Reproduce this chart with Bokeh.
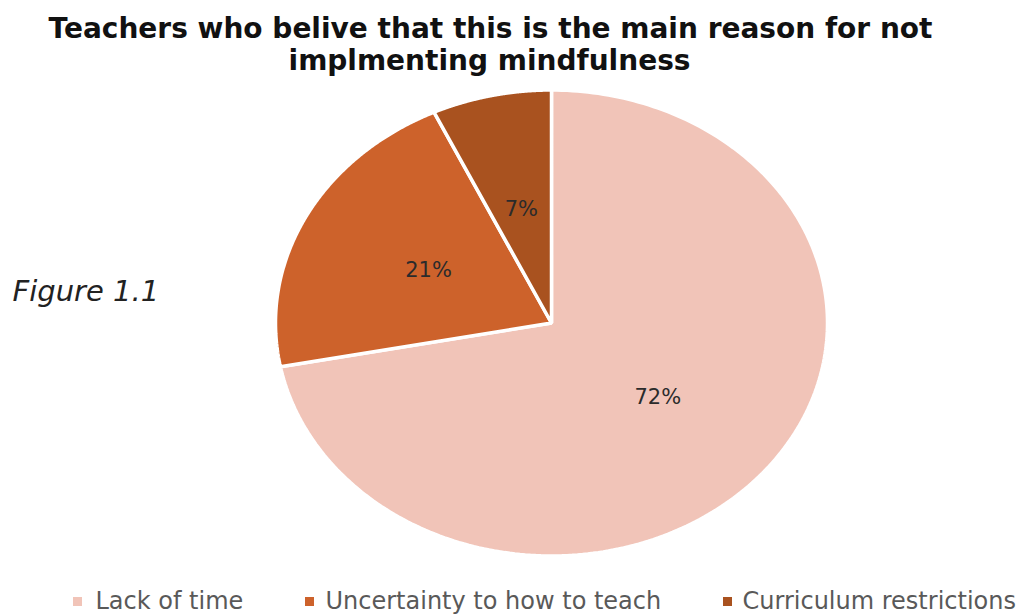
import numpy as np
from bokeh.plotting import figure
from bokeh.models import Range1d, ColumnDataSource
from bokeh.embed import file_html
from bokeh.resources import INLINE
from bokeh.core.properties import value

# ---- data ----
title_lines = ["Teachers who belive that this is the main reason for not",
               "implmenting mindfulness"]
categories = ["Lack of time", "Uncertainty to how to teach", "Curriculum restrictions"]
percent = [72, 21, 7]
colors = ["#F1C4B8", "#CD622B", "#A9521F"]
side_note = "Figure 1.1"

W, H = 1033, 615
p = figure(width=W, height=H, x_range=Range1d(0, W), y_range=Range1d(H, 0),
           output_backend="svg", toolbar_location=None, min_border=0)
p.axis.visible = False
p.grid.visible = False
p.outline_line_color = None
p.background_fill_color = "white"
p.border_fill_color = "white"

# ---- pie (elliptical, clockwise from 12 o'clock) ----
cx, cy, rx, ry = 551, 322.5, 276, 233
vals = np.array(percent, dtype=float)
frac = vals / vals.sum()
ends = np.cumsum(frac) * 2 * np.pi
starts = ends - frac * 2 * np.pi
xs, ys = [], []
for a0, a1 in zip(starts, ends):
    t = np.linspace(a0, a1, 240)
    xs.append([cx] + list(cx + rx * np.sin(t)) + [cx])
    ys.append([cy] + list(cy - ry * np.cos(t)) + [cy])
src = ColumnDataSource(dict(xs=xs, ys=ys, color=colors))
p.patches("xs", "ys", fill_color="color", line_color="white", line_width=3.5, source=src)

mid = (starts + ends) / 2
lx = cx + 0.5 * rx * np.sin(mid)
ly = cy - 0.5 * ry * np.cos(mid)
p.text(x=list(lx), y=list(ly), text=[f"{v}%" for v in percent],
       text_font=value("DejaVu Sans"), text_font_size="21px",
       text_align="center", text_baseline="middle", text_color="#2b2b2b")

# ---- title ----
p.text(x=[490, 489], y=[28, 60], text=title_lines,
       text_font=value("DejaVu Sans"), text_font_style="bold",
       text_font_size="28px", text_align="center", text_baseline="middle",
       text_color="#111111")

# ---- side note ----
p.text(x=[12], y=[290], text=[side_note], text_font=value("DejaVu Sans"),
       text_font_style="italic", text_font_size="29px", text_align="left",
       text_baseline="middle", text_color="#222222")

# ---- legend ----
sq_x = [77, 309, 727]
tx_x = [95, 325, 742]
p.scatter(x=sq_x, y=[601] * 3, marker="square", size=9, fill_color=colors, line_color=None)
p.text(x=tx_x, y=[600] * 3, text=categories,
       text_font=value("DejaVu Sans"), text_font_size="24px",
       text_align="left", text_baseline="middle", text_color="#595959")

open("out.html", "w").write(file_html(p, INLINE))
